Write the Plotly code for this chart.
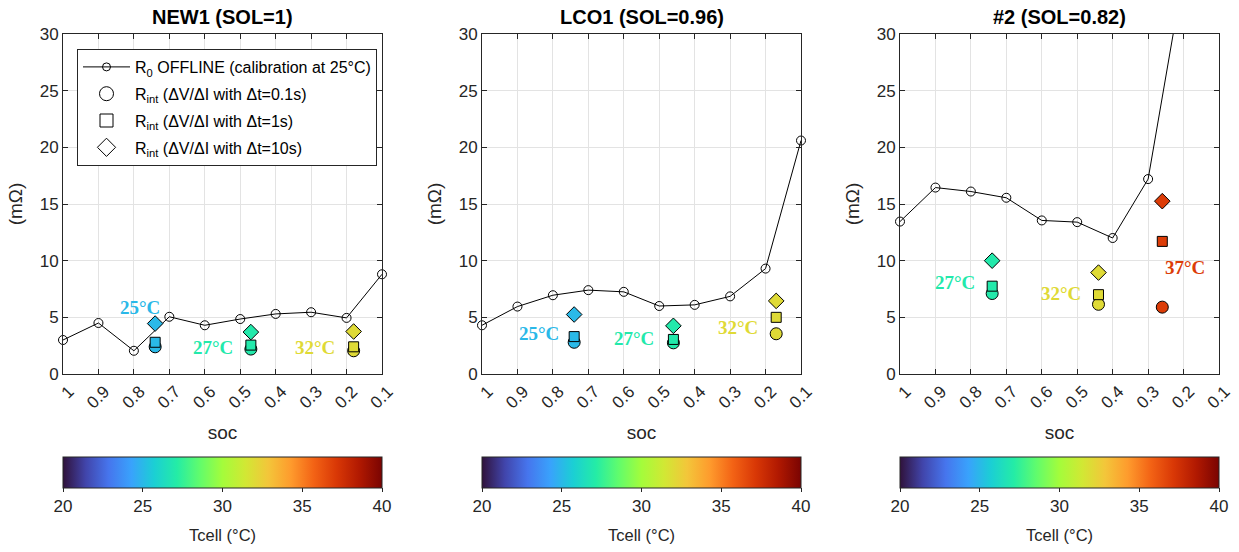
import plotly.graph_objects as go
from plotly.colors import sample_colorscale

W, H = 1239, 552

# State-of-charge grid for the offline R0 calibration
soc_grid = [1.0, 0.9, 0.8, 0.7, 0.6, 0.5, 0.4, 0.3, 0.2, 0.1]
soc_tick_labels = ["1", "0.9", "0.8", "0.7", "0.6", "0.5", "0.4", "0.3", "0.2", "0.1"]

titles = ["NEW1 (SOL=1)", "LCO1 (SOL=0.96)", "#2 (SOL=0.82)"]

# R0 OFFLINE (mOhm) per cell
r0_new1 = [3.0, 4.5, 2.05, 5.05, 4.3, 4.85, 5.3, 5.45, 4.95, 8.8]
r0_lco1 = [4.3, 5.95, 6.95, 7.4, 7.25, 6.0, 6.1, 6.85, 9.3, 20.6]
r0_cell2 = [13.45, 16.45, 16.1, 15.55, 13.55, 13.4, 12.0, 17.2, 35.3, 48.0]

# Rint pulses: soc, cell temperature, dV/dI at 0.1 s, 1 s, 10 s
new1_soc = [0.74, 0.47, 0.18]
new1_temp = [25, 27, 32]
new1_r01 = [2.4, 2.2, 2.05]
new1_r1 = [2.8, 2.55, 2.4]
new1_r10 = [4.45, 3.7, 3.75]

lco1_soc = [0.74, 0.46, 0.17]
lco1_temp = [25, 27, 32]
lco1_r01 = [2.8, 2.75, 3.55]
lco1_r1 = [3.3, 3.05, 5.0]
lco1_r10 = [5.25, 4.25, 6.45]

cell2_soc = [0.74, 0.44, 0.26]
cell2_temp = [27, 32, 37]
cell2_r01 = [7.1, 6.15, 5.9]
cell2_r1 = [7.75, 7.0, 11.7]
cell2_r10 = [10.0, 8.95, 15.25]

# Temperature labels: text, soc, value, temperature
new1_labels = [("25°C", 0.783, 5.9, 25), ("27°C", 0.578, 2.3, 27), ("32°C", 0.289, 2.3, 32)]
lco1_labels = [("25°C", 0.84, 3.6, 25), ("27°C", 0.57, 3.1, 27), ("32°C", 0.277, 4.1, 32)]
cell2_labels = [("27°C", 0.845, 8.1, 27), ("32°C", 0.545, 7.1, 32), ("37°C", 0.195, 9.4, 37)]

T_MIN, T_MAX = 20, 40
panels = [
    (r0_new1, new1_soc, new1_temp, new1_r01, new1_r1, new1_r10, new1_labels),
    (r0_lco1, lco1_soc, lco1_temp, lco1_r01, lco1_r1, lco1_r10, lco1_labels),
    (r0_cell2, cell2_soc, cell2_temp, cell2_r01, cell2_r1, cell2_r10, cell2_labels),
]

px_left = [63, 482, 900]
px_width = 319
y_top, y_bot = 34, 374
Y_MAX = 30

AX = "#262626"
SANS = "Liberation Sans, Arial, sans-serif"
SERIF = "Liberation Serif, Times New Roman, serif"


def temp_color(t):
    return sample_colorscale("Turbo", [(t - T_MIN) / (T_MAX - T_MIN)])[0]


fig = go.Figure()
annotations = []

for i, (r0, soc, temp, r01, r1, r10, labels) in enumerate(panels):
    n = "" if i == 0 else str(i + 1)
    xa, ya = "x" + n, "y" + n
    cax = "coloraxis" + n

    # R0 line (clipped) and its open markers (only those inside the y-range)
    fig.add_trace(go.Scatter(x=soc_grid, y=r0, mode="lines", xaxis=xa, yaxis=ya,
                             line=dict(color="black", width=1), showlegend=False))
    fig.add_trace(go.Scatter(x=soc_grid, y=[v if v <= Y_MAX else None for v in r0],
                             mode="markers", xaxis=xa, yaxis=ya, cliponaxis=False,
                             marker=dict(symbol="circle-open", size=9, color="black",
                                         line=dict(width=1)),
                             showlegend=False))
    for vals, sym, size in ((r01, "circle", 12), (r1, "square", 10), (r10, "diamond", 12)):
        fig.add_trace(go.Scatter(x=soc, y=vals, mode="markers", xaxis=xa, yaxis=ya,
                                 cliponaxis=False, showlegend=False,
                                 marker=dict(symbol=sym, size=size, color=temp,
                                             coloraxis=cax,
                                             line=dict(color="black", width=1))))
    for text, lx, ly, t in labels:
        annotations.append(dict(x=lx, y=ly, xref=xa, yref=ya, text="<b>%s</b>" % text,
                                showarrow=False, xanchor="center", yanchor="middle",
                                font=dict(family=SERIF, size=19, color=temp_color(t))))

    x0 = px_left[i] / W
    x1 = (px_left[i] + px_width) / W
    dom_y = [1 - y_bot / H, 1 - y_top / H]
    axis_common = dict(showline=True, linecolor=AX, linewidth=1, mirror="ticks",
                       ticks="inside", ticklen=5, tickcolor=AX, automargin=False,
                       showgrid=True, gridcolor="#e3e3e3", gridwidth=1,
                       zeroline=False, tickfont=dict(family=SANS, size=17, color=AX))
    fig.layout["xaxis" + n] = dict(domain=[x0, x1], range=[1.0, 0.1], anchor=ya,
                                    tickvals=soc_grid, ticktext=soc_tick_labels,
                                    tickangle=-45, ticklabelshift=-6,
                                    title=dict(text="soc", font=dict(family=SANS, size=19, color=AX),
                                               standoff=14),
                                    **axis_common)
    fig.layout["yaxis" + n] = dict(domain=dom_y, range=[0, Y_MAX], anchor=xa,
                                    tickvals=[0, 5, 10, 15, 20, 25, 30],
                                    title=dict(text="(mΩ)", font=dict(family=SANS, size=19, color=AX),
                                               standoff=12),
                                    **axis_common)
    fig.layout[cax] = dict(
        colorscale="Turbo", cmin=T_MIN, cmax=T_MAX,
        colorbar=dict(orientation="h", x=x0, xanchor="left", y=1 - 457 / H, yanchor="top",
                      len=px_width / W, lenmode="fraction", thickness=31,
                      thicknessmode="pixels", xpad=0, ypad=0,
                      outlinewidth=1, outlinecolor=AX,
                      ticks="outside", ticklen=4, tickcolor=AX,
                      tickvals=[20, 25, 30, 35, 40],
                      tickfont=dict(family=SANS, size=17, color=AX)))
    annotations.append(dict(x=(x0 + x1) / 2, y=1 - 535 / H, xref="paper", yref="paper",
                            text="Tcell (°C)", showarrow=False,
                            xanchor="center", yanchor="middle",
                            font=dict(family=SANS, size=16.5, color=AX)))
    annotations.append(dict(x=(x0 + x1) / 2, y=1 - 17 / H, xref="paper", yref="paper",
                            text="<b>%s</b>" % titles[i], showarrow=False,
                            xanchor="center", yanchor="middle",
                            font=dict(family=SANS, size=20, color="black")))

# Legend entries (black, unfilled symbols)
legend_items = [
    ("R<sub>0</sub> OFFLINE (calibration at 25°C)", "lines+markers", "circle-open", 8),
    ("R<sub>int</sub> (ΔV/ΔI with Δt=0.1s)", "markers", "circle-open", 14),
    ("R<sub>int</sub> (ΔV/ΔI with Δt=1s)", "markers", "square-open", 13),
    ("R<sub>int</sub> (ΔV/ΔI with Δt=10s)", "markers", "diamond-open", 14),
]
for k, (name, mode, sym, size) in enumerate(legend_items):
    fig.add_trace(go.Scatter(x=[None], y=[None], mode=mode, name=name,
                             legendgroup="g%d" % k,
                             line=dict(color="black", width=1),
                             marker=dict(symbol=sym, size=size, color="black",
                                         line=dict(width=1))))

fig.update_layout(
    width=W, height=H,
    margin=dict(l=0, r=0, t=0, b=0, pad=0, autoexpand=False),
    paper_bgcolor="white", plot_bgcolor="white",
    annotations=annotations,
    showlegend=True,
    legend=dict(x=77 / W, y=1 - 49 / H, xanchor="left", yanchor="top",
                bgcolor="white", bordercolor=AX, borderwidth=1,
                font=dict(family=SANS, size=16, color="black"),
                tracegroupgap=3, traceorder="grouped", itemwidth=47),
)

fig.write_html("out.html")
